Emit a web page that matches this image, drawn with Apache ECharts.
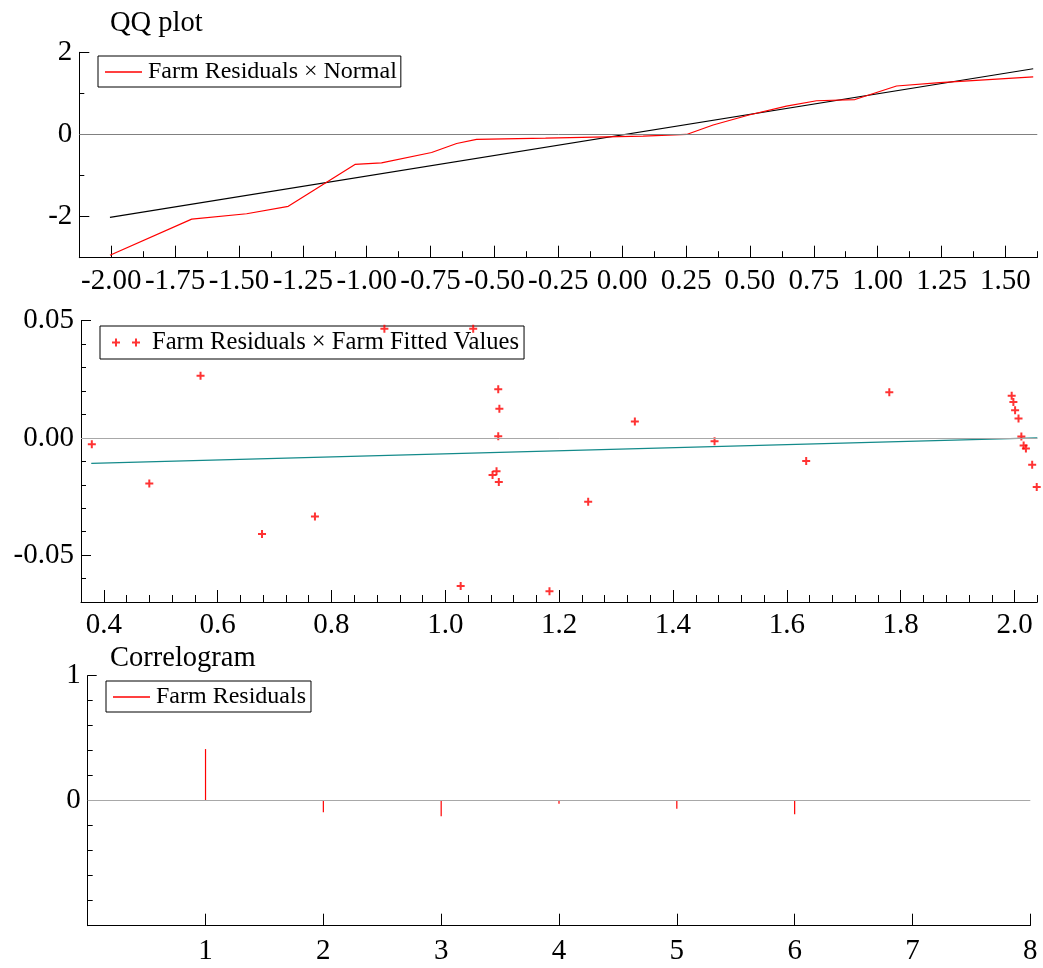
<!DOCTYPE html>
<html>
<head>
<meta charset="utf-8">
<script src="https://cdn.jsdelivr.net/npm/echarts@6/dist/echarts.min.js"></script>
<style>
html,body{margin:0;padding:0;background:#fff;}
#chart{width:1043px;height:968px;}
</style>
</head>
<body>
<div id="chart"></div>
<script>
// ---- QQ plot data ----
const qqTheo  = [-2.005, -1.685, -1.47, -1.307, -1.046, -0.942, -0.746, -0.648, -0.570, -0.30, 0.082, 0.252, 0.356, 0.50, 0.643, 0.761, 0.911, 1.074, 1.243, 1.609];
const qqResid = [-2.94, -2.06, -1.93, -1.75, -0.73, -0.69, -0.44, -0.22, -0.12, -0.09, -0.04, 0.00, 0.23, 0.48, 0.69, 0.82, 0.85, 1.18, 1.26, 1.40];
const qqRefX = [-2.005, 1.609];
const qqRefY = [-2.02, 1.60];
const qqXTicks = [-2.00, -1.75, -1.50, -1.25, -1.00, -0.75, -0.50, -0.25, 0.00, 0.25, 0.50, 0.75, 1.00, 1.25, 1.50];
const qqYTicks = [-2, 0, 2];

// ---- Residuals vs fitted ----
const fitted = [0.379, 0.480, 0.570, 0.678, 0.771, 0.893, 1.027, 1.049, 1.083, 1.090, 1.093, 1.093, 1.094, 1.095, 1.183, 1.251, 1.333, 1.473, 1.634, 1.780, 1.995, 1.998, 2.001, 2.007, 2.012, 2.016, 2.020, 2.031, 2.039];
const resid  = [-0.0027, -0.0195, 0.0265, -0.0410, -0.0335, 0.0466, -0.0632, 0.0466, -0.0158, -0.0142, 0.0208, 0.0007, -0.0188, 0.0124, -0.0654, -0.0272, 0.0070, -0.0014, -0.0098, 0.0195, 0.0180, 0.0153, 0.0118, 0.0083, 0.0006, -0.0032, -0.0045, -0.0115, -0.0209];
const fitLineX = [0.378, 2.04];
const fitLineY = [-0.0109, 0.0];
const resXTicks = [0.4, 0.6, 0.8, 1.0, 1.2, 1.4, 1.6, 1.8, 2.0];
const resYTicks = [-0.05, 0.00, 0.05];

// ---- Correlogram ----
const lags = [1, 2, 3, 4, 5, 6];
const acf  = [0.413, -0.093, -0.125, -0.024, -0.064, -0.109];
const acfYTicks = [0, 1];

const FONT = 'Liberation Serif';
const lbl = (extra) => Object.assign({fontFamily: FONT, fontSize: 29, color: '#000'}, extra || {});
const zeroLine = (color) => ({
  silent: true, symbol: 'none', label: {show: false},
  lineStyle: {color: color, type: 'solid', width: 1},
  data: [{yAxis: 0}], animation: false
});

function minorAxis(gi, min, max, interval, len, pos) {
  return {
    type: 'value', gridIndex: gi, min: min, max: max, interval: interval, position: pos,
    axisLine: {show: true, onZero: false, lineStyle: {color: '#000', width: 1}},
    axisTick: {show: true, inside: true, length: len, lineStyle: {color: '#000', width: 1}},
    axisLabel: {show: false}, splitLine: {show: false}
  };
}
function majorAxis(gi, min, max, ticks, len, pos, fmt, margin) {
  return {
    type: 'value', gridIndex: gi, min: min, max: max, position: pos, offset: 0,
    axisLine: {show: false, onZero: false},
    axisTick: {show: true, inside: true, length: len, customValues: ticks, lineStyle: {color: '#000', width: 1}},
    axisLabel: lbl({show: true, customValues: ticks, formatter: fmt, margin: margin}),
    splitLine: {show: false}
  };
}

const chart = echarts.init(document.getElementById('chart'), null, {renderer: 'canvas'});
chart.setOption({
  animation: false,
  backgroundColor: '#fff',
  title: [
    {text: 'QQ plot', left: 110, top: 9, padding: 0, textStyle: {fontFamily: FONT, fontSize: 28.5, fontWeight: 'normal', color: '#000'}},
    {text: 'Correlogram', left: 110, top: 644, padding: 0, textStyle: {fontFamily: FONT, fontSize: 28.5, fontWeight: 'normal', color: '#000'}}
  ],
  legend: [
    {data: ['Farm Residuals × Normal'], left: 98, top: 56, orient: 'horizontal',
     borderColor: '#000', borderWidth: 1, padding: [4, 4, 3, 7],
     icon: 'rect', itemWidth: 37, itemHeight: 1.4,
     textStyle: {fontFamily: FONT, fontSize: 24, color: '#000', padding: [0, 0, 0, 1]}},
    {data: ['Farm Residuals × Farm Fitted Values'], left: 100, top: 326, orient: 'horizontal',
     borderColor: '#000', borderWidth: 1, padding: [4, 5, 4, 12],
     icon: 'path://M0,3H8V5H0Z M3,0H5V8H3Z M20,3H28V5H20Z M23,0H25V8H23Z', itemWidth: 28, itemHeight: 8,
     textStyle: {fontFamily: FONT, fontSize: 24.6, color: '#000', padding: [0, 0, 0, 7]}},
    {data: ['Farm Residuals'], left: 106, top: 681, orient: 'horizontal',
     borderColor: '#000', borderWidth: 1, padding: [4, 5, 3, 7],
     icon: 'rect', itemWidth: 37, itemHeight: 1.4,
     textStyle: {fontFamily: FONT, fontSize: 24, color: '#000', padding: [0, 0, 0, 1]}}
  ],
  grid: [
    {left: 79.3, top: 52.3, width: 958, height: 205.4, containLabel: false, outerBoundsMode: 'none'},
    {left: 81, top: 320.7, width: 956.3, height: 281.3, containLabel: false, outerBoundsMode: 'none'},
    {left: 87.7, top: 675.7, width: 942.6, height: 250, containLabel: false, outerBoundsMode: 'none'}
  ],
  xAxis: [
    minorAxis(0, -2.125, 1.625, 0.125, 6.5, 'bottom'),
    majorAxis(0, -2.125, 1.625, qqXTicks, 12, 'bottom', v => v.toFixed(2), 9),
    minorAxis(1, 0.36, 2.04, 0.04, 7, 'bottom'),
    majorAxis(1, 0.36, 2.04, resXTicks, 12, 'bottom', v => v.toFixed(1), 9),
    {
      type: 'value', gridIndex: 2, min: 0, max: 8, interval: 1, position: 'bottom',
      axisLine: {show: true, onZero: false, lineStyle: {color: '#000', width: 1}},
      axisTick: {show: true, inside: true, length: 12, lineStyle: {color: '#000', width: 1}},
      axisLabel: lbl({show: true, margin: 11, formatter: v => (v === 0 ? '' : String(v))}),
      splitLine: {show: false}
    }
  ],
  yAxis: [
    minorAxis(0, -3, 2, 1, 5, 'left'),
    majorAxis(0, -3, 2, qqYTicks, 10, 'left', v => String(v), 7),
    minorAxis(1, -0.07, 0.05, 0.01, 5, 'left'),
    majorAxis(1, -0.07, 0.05, resYTicks, 10, 'left', v => v.toFixed(2), 7),
    minorAxis(2, -1, 1, 0.2, 5, 'left'),
    majorAxis(2, -1, 1, acfYTicks, 9, 'left', v => String(v), 7)
  ],
  series: [
    {name: 'Farm Residuals × Normal', type: 'line', xAxisIndex: 0, yAxisIndex: 0,
     data: qqTheo.map((x, i) => [x, qqResid[i]]), showSymbol: false, symbol: 'none',
     lineStyle: {color: '#ff0000', width: 1.2}, itemStyle: {color: '#ff0000'},
     markLine: zeroLine('#808080'), z: 3},
    {name: 'Normal reference', type: 'line', xAxisIndex: 0, yAxisIndex: 0,
     data: qqRefX.map((x, i) => [x, qqRefY[i]]), showSymbol: false, symbol: 'none',
     lineStyle: {color: '#000', width: 1.2}, z: 2},
    {name: 'Farm Residuals × Farm Fitted Values', type: 'scatter', xAxisIndex: 2, yAxisIndex: 2,
     data: fitted.map((x, i) => [x, resid[i]]),
     symbol: 'path://M0,3H8V5H0Z M3,0H5V8H3Z', symbolSize: 8,
     itemStyle: {color: '#ff0000'}, clip: false, z: 4,
     markLine: zeroLine('#a8a8a8')},
    {name: 'Fitted trend', type: 'line', xAxisIndex: 2, yAxisIndex: 2,
     data: fitLineX.map((x, i) => [x, fitLineY[i]]), showSymbol: false, symbol: 'none',
     lineStyle: {color: '#138a8a', width: 1.3}, z: 3},
    {name: 'Farm Residuals', type: 'bar', xAxisIndex: 4, yAxisIndex: 4,
     data: lags.map((x, i) => [x, acf[i]]), barWidth: 1.2,
     itemStyle: {color: '#ff0000'}, markLine: zeroLine('#a8a8a8'), z: 3}
  ]
});
</script>
</body>
</html>
